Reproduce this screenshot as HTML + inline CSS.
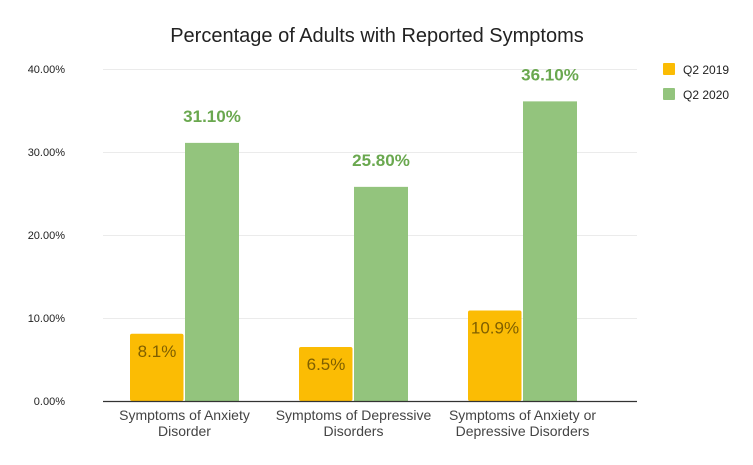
<!DOCTYPE html>
<html><head><meta charset="utf-8"><style>
body{margin:0;background:#fff}
svg{display:block;font-family:"Liberation Sans",Arial,sans-serif}
</style></head><body>
<svg id="chart" width="753" height="465" viewBox="0 0 753 465" xmlns="http://www.w3.org/2000/svg">
<text x="377" y="42" text-anchor="middle" font-size="20" fill="#222">Percentage of Adults with Reported Symptoms</text>
<g id="grid"></g><g id="bars"></g><g id="labels"></g>
<line x1="103" y1="401.5" x2="637" y2="401.5" stroke="#333" stroke-width="1.2"/>
<g>
<rect x="663" y="63" width="12" height="12" rx="1" fill="#fbbc04"/>
<text x="683" y="74" font-size="12" fill="#222">Q2 2019</text>
<rect x="663" y="88" width="12" height="12" rx="1" fill="#93c47d"/>
<text x="683" y="99" font-size="12" fill="#222">Q2 2020</text>
</g>
</svg>
<script>
const categories=[["Symptoms of Anxiety","Disorder"],["Symptoms of Depressive","Disorders"],["Symptoms of Anxiety or","Depressive Disorders"]];
const values2019=[8.1,6.5,10.9];
const values2020=[31.1,25.8,36.1];
const labels2019=["8.1%","6.5%","10.9%"];
const labels2020=["31.10%","25.80%","36.10%"];
const yTicks=[0,10,20,30,40];
const yTickLabels=["0.00%","10.00%","20.00%","30.00%","40.00%"];
const NS="http://www.w3.org/2000/svg";
const y=v=>401-v*8.3;
const xc=i=>184.5+i*169;
const svg=document.getElementById('chart');
function mk(tag,attrs,parent,text){const e=document.createElementNS(NS,tag);for(const k in attrs)e.setAttribute(k,attrs[k]);if(text!=null)e.textContent=text;parent.appendChild(e);return e;}
const grid=document.getElementById('grid'),bars=document.getElementById('bars'),lab=document.getElementById('labels');
yTicks.forEach((t,i)=>{
 if(t>0){const l=mk('line',{x1:103,x2:637,y1:y(t)+0.5,y2:y(t)+0.5,stroke:'#ebebeb'},grid);
 
 }
 const tx=mk('text',{x:65,y:y(t)+4,'text-anchor':'end','font-size':11,fill:'#222'},grid,yTickLabels[i]);
 
 
});
categories.forEach((c,i)=>{
 const b1=mk('rect',{x:xc(i)-54.5,y:y(values2019[i]),width:53.5,height:401-y(values2019[i]),rx:2,fill:'#fbbc04'},bars);
 
 
 const b2=mk('rect',{x:xc(i)+0.5,y:y(values2020[i]),width:54,height:401-y(values2020[i]),fill:'#93c47d'},bars);
 
 
 const t1=mk('text',{x:xc(i)-27.5,y:y(values2019[i])+23,'text-anchor':'middle','font-size':17,fill:'#7f5f00'},lab,labels2019[i]);
 
 
 const t2=mk('text',{x:xc(i)+27.5,y:y(values2020[i])-21,'text-anchor':'middle','font-size':17,'font-weight':'bold',fill:'#6aa84f'},lab,labels2020[i]);
 
 
 c.forEach((line,j)=>{
  const ct=mk('text',{x:xc(i),y:420+j*16,'text-anchor':'middle','font-size':14,fill:'#444'},lab,line);
  
  
 });
});
</script>
</body></html>
